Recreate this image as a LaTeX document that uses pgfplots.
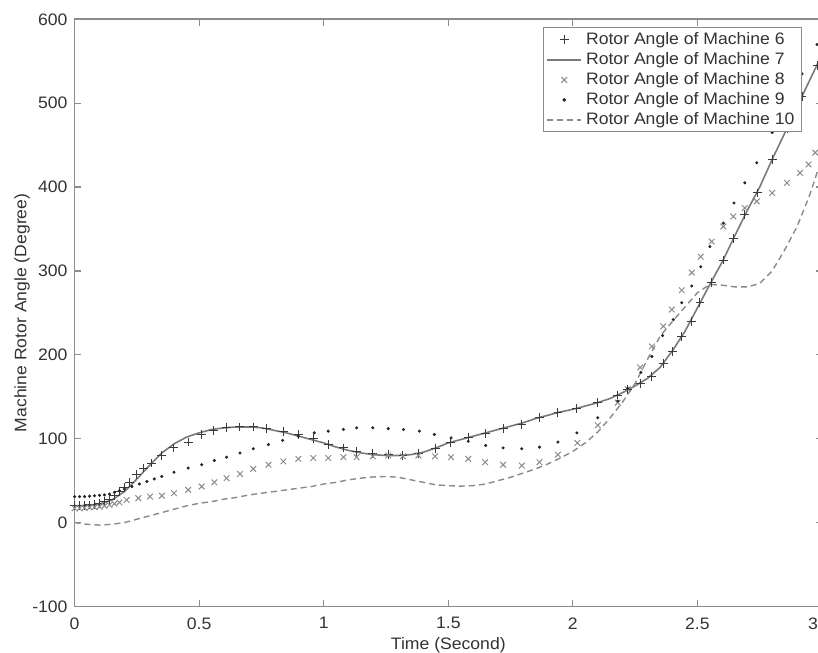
\documentclass[border=0pt]{standalone}
\usepackage{fontspec}
\setmainfont{Liberation Sans}[FakeStretch=1.06]
\usepackage{pgfplots}
\pgfplotsset{compat=1.18}

\definecolor{axisgray}{HTML}{8C8C8C}
\definecolor{txtgray}{HTML}{333333}
\definecolor{plusgray}{HTML}{3A3A3A}
\definecolor{crossgray}{HTML}{8A8A8A}
\definecolor{linegray}{HTML}{7A7A7A}
\definecolor{dashgray}{HTML}{8A8A8A}

\newcommand{\lblfont}{\fontsize{8.3}{9.8}\selectfont}

\begin{document}
\begin{tikzpicture}
\begin{axis}[
  name=ax,
  scale only axis,
  width=373.7pt, height=293.6pt,
  xmin=0, xmax=3, ymin=-100, ymax=600,
  xtick={0,0.5,1,1.5,2,2.5,3},
  xticklabels={0,0.5,1,1.5,2,2.5,\makebox[0pt][r]{3\hspace*{2pt}}},
  ytick={-100,0,100,200,300,400,500,600},
  yticklabels={-100,0,100,200,300,400,500,600},
  tick align=inside,
  major tick length=3.2pt,
  tick style={axisgray, line width=0.6pt},
  axis line style={axisgray, line width=0.8pt},
  every tick label/.append style={font=\lblfont, text=txtgray},
  xticklabel style={yshift=-2pt},
  xlabel={Time (Second)},
  ylabel={Machine Rotor Angle (Degree)},
  xlabel style={at={(axis description cs:0.5,-0.066)}, anchor=center, font=\lblfont, text=txtgray},
  ylabel style={at={(axis description cs:-0.0704,0.5)}, anchor=center, font=\lblfont, text=txtgray},
  legend style={at={(0.9733,0.9864)}, anchor=north east, draw=axisgray, fill=white,
    line width=0.6pt, font=\lblfont, text=txtgray, inner xsep=1.5pt, inner ysep=1pt,
    row sep=0pt, nodes={inner ysep=1pt, text height=6.1pt, text depth=1.9pt}},
  legend cell align=left,
]
% machine 6
\addplot[only marks, mark=+, mark size=2.2pt, plusgray, mark options={line width=0.5pt}] coordinates {
  (0,20) (0.02,20) (0.04,20.5) (0.06,21) (0.08,22) (0.10,23) (0.12,25) (0.14,28)
  (0.16,32) (0.18,37) (0.20,42) (0.22,48) (0.25,57) (0.276,65) (0.31,71) (0.35,80)
  (0.396,89) (0.456,96) (0.51,105) (0.557,110) (0.61,113) (0.661,114) (0.717,114)
  (0.771,112) (0.838,109) (0.898,105) (0.958,100) (1.018,93) (1.079,89) (1.132,85)
  (1.197,82) (1.259,81) (1.318,80) (1.38,82) (1.447,88) (1.51,95) (1.58,101)
  (1.65,106) (1.72,112) (1.795,117) (1.866,125) (1.94,131) (2.016,136) (2.098,143)
  (2.18,152) (2.22,159) (2.27,166) (2.317,174) (2.363,190) (2.40,204) (2.437,222)
  (2.477,240) (2.51,262) (2.557,286) (2.604,313) (2.644,339) (2.69,367) (2.74,393)
  (2.80,433) (2.86,470) (2.92,508) (2.98,545)
};
\addlegendentry{Rotor Angle of Machine 6}
% machine 7
\addplot[linegray, line width=0.8pt, no marks] coordinates {
  (0,20) (0.05,20.5) (0.1,22) (0.15,27) (0.2,37) (0.25,52) (0.3,68) (0.35,83)
  (0.4,94) (0.45,102) (0.5,107) (0.55,111) (0.6,113) (0.65,114) (0.7,114) (0.75,113)
  (0.8,110) (0.85,107) (0.9,103) (0.95,99) (1.0,95) (1.05,90) (1.1,86) (1.15,83)
  (1.2,81) (1.25,80) (1.3,80) (1.35,81) (1.4,84) (1.45,89) (1.5,95) (1.55,99)
  (1.6,103) (1.65,107) (1.7,111) (1.75,115) (1.8,119) (1.85,124) (1.9,128) (1.95,132)
  (2.0,135) (2.05,139) (2.1,143) (2.15,148) (2.2,155) (2.25,163) (2.3,172) (2.35,185)
  (2.4,205) (2.45,228) (2.5,256) (2.55,284) (2.6,311) (2.65,342) (2.7,372) (2.75,400)
  (2.8,433) (2.85,464) (2.9,496) (2.95,527) (3.0,558)
};
\addlegendentry{Rotor Angle of Machine 7}
% machine 8
\addplot[only marks, mark=x, mark size=2pt, crossgray, mark options={line width=0.5pt}] coordinates {
  (0,17) (0.02,17) (0.04,17.5) (0.06,18) (0.08,18.5) (0.10,19) (0.12,20) (0.14,21)
  (0.16,22.5) (0.18,24) (0.209,27) (0.256,29) (0.303,31) (0.35,32) (0.399,35)
  (0.456,39) (0.51,43) (0.561,48) (0.61,53) (0.664,58) (0.717,64) (0.778,69)
  (0.838,73) (0.898,76) (0.958,77) (1.018,77) (1.079,78) (1.132,78) (1.197,79)
  (1.259,80) (1.318,79) (1.38,80) (1.447,79) (1.511,78) (1.58,76) (1.648,72)
  (1.72,69) (1.795,68) (1.866,72) (1.94,81) (2.018,95) (2.10,116) (2.18,143)
  (2.22,159) (2.27,185) (2.317,210) (2.363,234) (2.397,254) (2.437,277) (2.477,298)
  (2.513,317) (2.557,335) (2.604,353) (2.644,365) (2.69,375) (2.738,383) (2.80,393)
  (2.859,405) (2.912,417) (2.946,427) (2.973,441)
};
\addlegendentry{Rotor Angle of Machine 8}
% machine 9
\addplot[only marks, mark=*, mark size=0.55pt, black!85] coordinates {
  (0,31) (0.02,31) (0.04,31) (0.06,31.5) (0.08,32) (0.10,32.5) (0.12,33) (0.14,34)
  (0.16,36) (0.18,38) (0.2,40) (0.23,43) (0.26,46) (0.29,49) (0.32,52) (0.35,55)
  (0.399,60) (0.456,65) (0.51,69) (0.561,74) (0.61,78) (0.664,83) (0.717,88)
  (0.778,93) (0.835,98) (0.898,103) (0.962,107) (1.018,109) (1.079,111) (1.132,113)
  (1.197,113) (1.259,112) (1.32,111) (1.384,109) (1.444,105) (1.511,101) (1.58,97)
  (1.65,92) (1.72,89) (1.795,88) (1.866,90) (1.94,96) (2.016,107) (2.10,125)
  (2.18,145) (2.22,160) (2.273,179) (2.317,198) (2.36,223) (2.403,242) (2.437,262)
  (2.477,282) (2.513,305) (2.55,329) (2.604,357) (2.647,381) (2.69,405) (2.738,429)
  (2.80,465) (2.86,500) (2.92,535) (2.98,570)
};
\addlegendentry{Rotor Angle of Machine 9}
% machine 10
\addplot[dashgray, line width=0.7pt, dash pattern=on 3pt off 2pt, no marks] coordinates {
  (0,0) (0.05,-2) (0.1,-3) (0.15,-2) (0.2,0) (0.25,4) (0.3,8) (0.35,12) (0.4,16)
  (0.45,20) (0.5,23) (0.55,25) (0.6,28) (0.65,30) (0.7,33) (0.75,35) (0.8,37)
  (0.85,39) (0.9,41) (0.95,43) (1.0,46) (1.05,48) (1.1,51) (1.15,53) (1.2,54.5)
  (1.25,55) (1.3,54) (1.35,51) (1.4,48) (1.45,45) (1.5,44) (1.55,43.5) (1.6,44)
  (1.65,46) (1.7,50) (1.75,54) (1.8,59) (1.85,64) (1.9,70) (1.95,77) (2.0,85)
  (2.05,95) (2.1,108) (2.15,125) (2.2,144) (2.25,166) (2.3,195) (2.35,222)
  (2.4,240) (2.45,257) (2.5,274) (2.55,284) (2.6,283) (2.65,281) (2.7,281)
  (2.75,285) (2.8,300) (2.85,325) (2.9,353) (2.95,390) (3.0,435)
};
\addlegendentry{Rotor Angle of Machine 10}
\end{axis}
\pgfresetboundingbox
\useasboundingbox ([xshift=-37.3pt,yshift=-23.25pt]ax.south west) rectangle ([xshift=-2pt,yshift=9.65pt]ax.north east);
\end{tikzpicture}
\end{document}
